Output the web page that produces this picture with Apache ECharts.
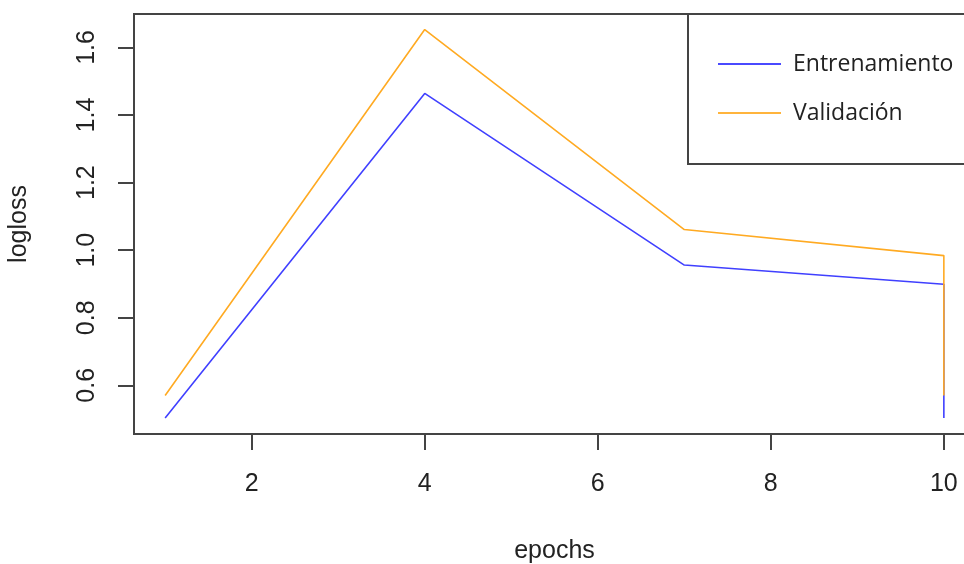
<!DOCTYPE html>
<html>
<head>
<meta charset="utf-8">
<script src="https://cdn.jsdelivr.net/npm/echarts@6/dist/echarts.min.js"></script>
<style>
html,body{margin:0;padding:0;background:#fff;}
#c{width:964px;height:564px;}
</style>
</head>
<body>
<div id="c"></div>
<script>
const epochs = [1, 4, 7, 10, 10];
const entrenamiento = [0.503, 1.464, 0.956, 0.899, 0.503];
const validacion = [0.570, 1.653, 1.061, 0.984, 0.570];
const xTicks = [2, 4, 6, 8, 10];
const yTicks = [0.6, 0.8, 1.0, 1.2, 1.4, 1.6];
const seriesNames = ['Entrenamiento', 'Validación'];

const chart = echarts.init(document.getElementById('c'), null, {renderer: 'canvas'});
const axisColor = '#444';
const textColor = '#222';
const font = 'Liberation Sans, Arial, sans-serif';

chart.setOption({
  animation: false,
  backgroundColor: '#fff',
  grid: {
    left: 134, right: -11, top: 14, bottom: 130,
    outerBoundsMode: 'none', containLabel: false,
    show: true, borderColor: axisColor, borderWidth: 2, backgroundColor: 'transparent'
  },
  legend: {
    orient: 'vertical',
    left: 688, top: 14,
    padding: [37, 60, 38, 30],
    itemWidth: 63, itemHeight: 2, itemGap: 23,
    icon: 'rect',
    borderColor: axisColor, borderWidth: 2,
    backgroundColor: '#fff',
    textStyle: {fontFamily: 'Open Sans, Noto Sans, sans-serif', fontSize: 23, color: textColor, lineHeight: 26, padding: [0, 0, 0, 7]},
    data: seriesNames
  },
  xAxis: {
    type: 'value', min: 0.64, max: 10.36,
    name: 'epochs', nameLocation: 'middle', nameGap: 105,
    nameTextStyle: {fontFamily: font, fontSize: 25, color: textColor},
    splitLine: {show: false},
    axisLine: {show: false},
    axisTick: {show: true, length: 16, customValues: xTicks, lineStyle: {color: axisColor, width: 2}},
    axisLabel: {customValues: xTicks, margin: 38, fontFamily: font, fontSize: 25, color: textColor}
  },
  yAxis: {
    type: 'value', min: 0.456, max: 1.699,
    name: 'logloss', nameLocation: 'middle', nameGap: 102,
    nameTextStyle: {fontFamily: font, fontSize: 25, color: textColor},
    splitLine: {show: false},
    axisLine: {show: false},
    axisTick: {show: true, length: 16, customValues: yTicks, lineStyle: {color: axisColor, width: 2}},
    axisLabel: {customValues: yTicks, rotate: 90, margin: 34, fontFamily: font, fontSize: 25, color: textColor,
      formatter: v => v.toFixed(1)}
  },
  series: [
    {
      name: seriesNames[0], type: 'line', symbol: 'none',
      data: epochs.map((e, i) => [e, entrenamiento[i]]),
      lineStyle: {color: '#4040ff', width: 1.6}, itemStyle: {color: '#4a4aff'}
    },
    {
      name: seriesNames[1], type: 'line', symbol: 'none',
      data: epochs.map((e, i) => [e, validacion[i]]),
      lineStyle: {color: '#ffaa22', width: 1.6}, itemStyle: {color: '#ffb43c'}
    }
  ]
});
</script>
</body>
</html>
